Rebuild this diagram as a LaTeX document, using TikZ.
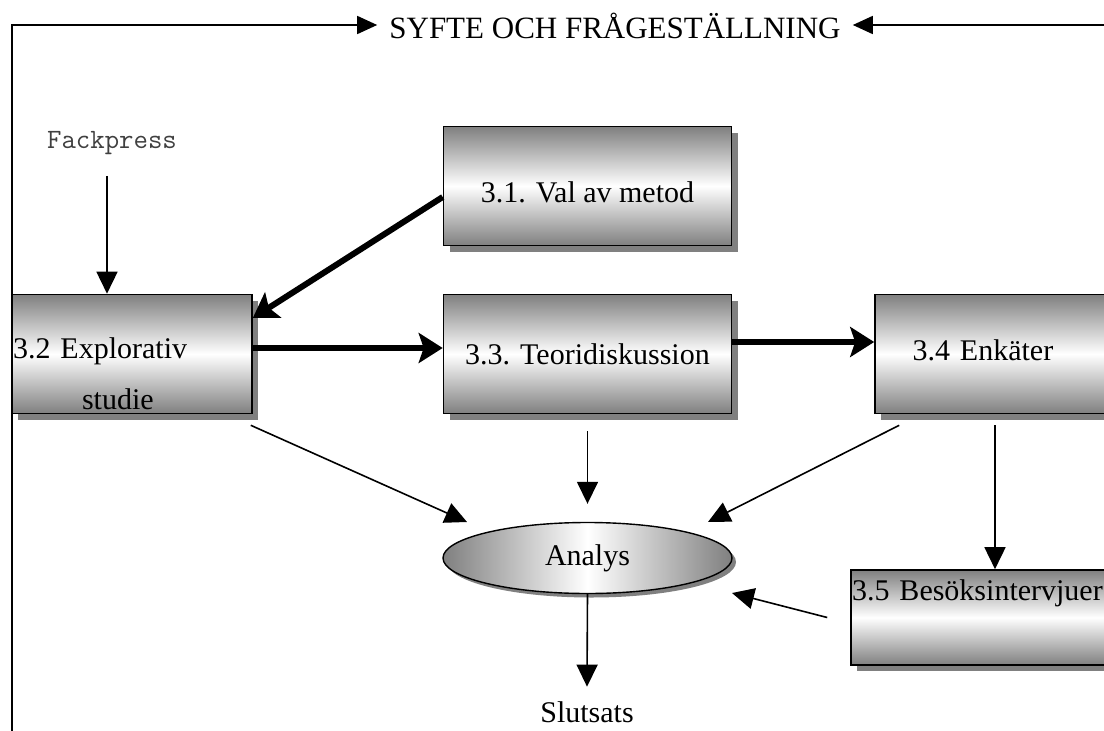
\documentclass[tikz,border=0pt]{standalone}
\usepackage{fontspec}
\setmainfont{Liberation Serif}
\usetikzlibrary{arrows.meta,positioning,calc,shapes.geometric,shadows}
\tikzset{
  box/.style={draw, line width=1.6pt, rectangle, minimum width=288pt, minimum height=119pt,
    top color=gray, bottom color=gray, middle color=white,
    drop shadow={shadow xshift=6pt, shadow yshift=-6pt, fill=gray, opacity=1}},
  oval/.style={draw, ellipse, line width=1.4pt, minimum width=289pt, minimum height=71pt, inner sep=0pt,
    left color=gray, right color=gray, middle color=white,
    drop shadow={shadow xshift=4pt, shadow yshift=-4pt, fill=gray, opacity=1}},
  flow/.style={line width=1.6pt, -{Triangle[length=22pt,width=21pt]}},
  thickflow/.style={line width=6pt, -{Stealth[length=24pt,width=30pt,inset=5pt]}},
}
\begin{document}
\begin{tikzpicture}[x=1pt, y=1pt, font=\fontsize{30}{36}\selectfont]
\useasboundingbox (0,0) rectangle (1104,-731);
\clip (0,0) rectangle (1104,-731);
% frame line and title
\node[anchor=base, inner xsep=12pt, font=\fontsize{31}{36}\selectfont] (syfte) at (615,-38) {SYFTE OCH FRÅGESTÄLLNING};
\coordinate (tl) at (12,-25);
\coordinate (tr) at (1104,-25);
\coordinate (bl) at (12,-731);
\draw[line width=1.6pt, -{Triangle[length=20pt,width=18pt]}] (bl) -- (tl) -- (tl -| syfte.west);
\draw[line width=1.6pt, -{Triangle[length=20pt,width=18pt]}] (tr) -- (tr -| syfte.east);
% boxes
\node[anchor=base, font=\ttfamily\fontsize{28}{32}\selectfont, text=black!75] (fack) at (112,-148) {Fackpress};
\node[box, text height=32pt, text depth=0pt] (31) at (587.5,-186) {3.1. Val av metod};
\node[box, minimum width=240pt, text width=238pt, inner xsep=1pt, align=left,
  text height=20pt, text depth=11pt] (32) at (132,-354) {3.2 Explorativ\\[15pt]\hspace*{69pt}studie};
\node[box] (33) at (587.5,-354) {3.3. Teoridiskussion};
\node[box, text width=213pt, inner xsep=37pt, align=left,
  text height=20pt, text depth=8pt] (34) at (1019,-354) {3.4 Enkäter};
\node[box, minimum height=95pt, text width=286pt, inner xsep=1pt, inner ysep=0pt, align=left,
  text height=21pt, text depth=56pt] (35) at (995,-617.5) {3.5 Besöksintervjuer};
\node[oval] (an) at (587.5,-558) {Analys};
\node[anchor=base] (slut) at (587,-722) {Slutsats};
% thick arrows
\draw[thickflow] ([yshift=-11]31.west) -- ([yshift=36]32.east);
\draw[thickflow] ([yshift=6]32.east) -- ([yshift=6]33.west);
\draw[thickflow] ([yshift=12]33.east) -- ([yshift=12]34.west);
% thin arrows
\draw[flow] ($(fack.south)+(-5,-18)$) -- ($(fack.south |- 32.north)+(-5,0)$);
\draw[flow] ($(32.south east)+(-2,-11)$) -- ($(an.center)+(-120.5,36)$);
\draw[flow] ([yshift=-17]33.south) -- ([yshift=18]an.north);
\draw[flow] ($(34.south west)+(25,-11)$) -- ($(an.center)+(120.5,36)$);
\draw[flow] ($(34.south -| 35.north)+(0,-11)$) -- (35.north);
\draw[flow] ([xshift=-23]35.west) -- ($(an.center)+(144.5,-35)$);
\draw[flow] (an.south) -- ([yshift=11]slut.north);
\end{tikzpicture}
\end{document}
